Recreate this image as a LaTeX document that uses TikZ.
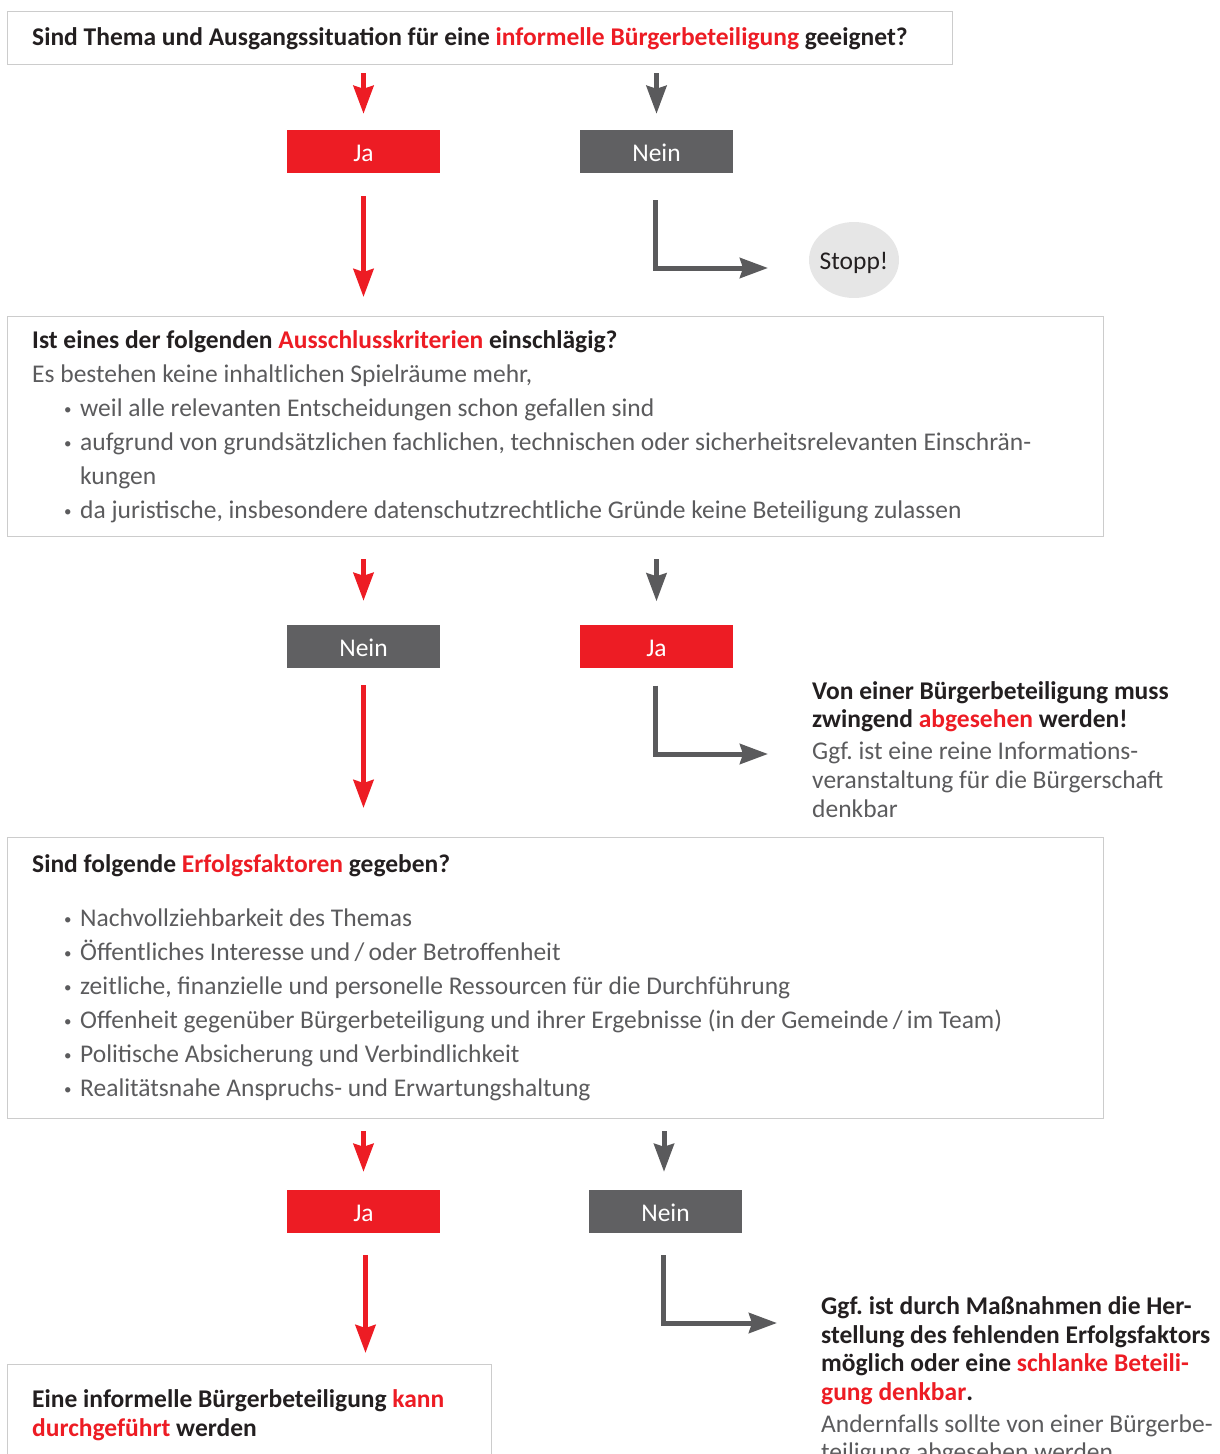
\documentclass[tikz,border=0pt]{standalone}
\usepackage{fontspec}
\setmainfont{Carlito}
\usetikzlibrary{arrows.meta,shapes.geometric}
\definecolor{hred}{HTML}{ED1C24}
\definecolor{darkbox}{HTML}{606062}
\definecolor{arrgray}{HTML}{5A5A5C}
\definecolor{boxline}{HTML}{CCCCCC}
\definecolor{headtext}{HTML}{231F20}
\definecolor{bodytext}{HTML}{5B5B5D}
\definecolor{stoppfill}{HTML}{E6E6E6}
\newcommand\hr[1]{\textcolor{hred}{#1}}
\newcommand\bul{\makebox[16pt][l]{\raisebox{1.5pt}{\fontsize{15}{15}\selectfont•}}}
\frenchspacing
\tikzset{
  frame/.style={draw=boxline, line width=1.3pt, anchor=north west, inner sep=0pt},
  yesbox/.style={fill=hred, minimum width=153pt, minimum height=43pt, inner sep=0pt, text=white, font=\fontsize{25.5}{30}\selectfont, text height=20pt, text depth=0pt},
  nobox/.style={yesbox, fill=darkbox},
  head/.style={anchor=base west, inner sep=0pt, text=headtext, font=\fontsize{25.5}{30}\selectfont\bfseries},
  body/.style={anchor=base west, inner sep=0pt, text=bodytext, font=\fontsize{25.5}{30}\selectfont},
  redarrow/.style={draw=hred, line width=5pt, -{Stealth[width=20pt,length=28pt,inset=3pt]}},
  grayarrow/.style={redarrow, draw=arrgray},
}
\begin{document}
\begin{tikzpicture}[x=1pt,y=-1pt]
\useasboundingbox (0,0) rectangle (1219,1454);
\clip (0,0) rectangle (1219,1454);
% boxes
\node[frame, minimum width=945pt, minimum height=53pt] (q1) at (7,11) {};
\node[frame, minimum width=1096pt, minimum height=220pt] (q2) at (7,316) {};
\node[frame, minimum width=1096pt, minimum height=281pt] (q3) at (7,837) {};
\node[frame, minimum width=484pt, minimum height=120pt] (res) at (7,1364) {};
% answer boxes
\node[yesbox] (ja1) at (363.5,151.5) {Ja};
\node[nobox] (nein1) at (656.5,151.5) {Nein};
\node[nobox] (nein2) at (363.5,646.5) {Nein};
\node[yesbox] (ja2) at (656.5,646) {Ja};
\node[yesbox] (ja3) at (363.5,1211.5) {Ja};
\node[nobox] (nein3) at (665.5,1211.5) {Nein};
\node[ellipse, fill=stoppfill, minimum width=90pt, minimum height=76pt, inner xsep=-2.5pt, inner ysep=0pt, text=headtext, font=\fontsize{25.5}{30}\selectfont, text height=18pt, text depth=0pt] (stopp) at (854,260) {Stopp!};
% texts box 1
\node[head] (t1) at (32,45) {Sind Thema und Ausgangssituation für eine \hr{informelle Bürgerbeteiligung} geeignet?};
% box 2
\node[head] (t2) at (32,348) {Ist eines der folgenden \hr{Ausschlusskriterien} einschlägig?};
\node[body] (t2a) at (32,382) {Es bestehen keine inhaltlichen Spielräume mehr,};
\node[body] (t2b) at (64,416) {\bul weil alle relevanten Entscheidungen schon gefallen sind};
\node[body] (t2c) at (64,450) {\bul aufgrund von grundsätzlichen fachlichen, technischen oder sicherheitsrelevanten Einschrän-};
\node[body] (t2d) at (80,484) {kungen};
\node[body] (t2e) at (64,518) {\bul da juristische, insbesondere datenschutzrechtliche Gründe keine Beteiligung zulassen};
% side text 1
\node[head] (s1a) at (812,699) {Von einer Bürgerbeteiligung muss};
\node[head] (s1b) at (812,727) {zwingend \hr{abgesehen} werden!};
\node[body] (s1c) at (812,759) {Ggf. ist eine reine Informations-};
\node[body] (s1d) at (812,788) {veranstaltung für die Bürgerschaft};
\node[body] (s1e) at (812,817) {denkbar};
% box 3
\node[head] (t3) at (32,872) {Sind folgende \hr{Erfolgsfaktoren} gegeben?};
\node[body] (t3a) at (64,926) {\bul Nachvollziehbarkeit des Themas};
\node[body] (t3b) at (64,960) {\bul Öffentliches Interesse und\,/\,oder Betroffenheit};
\node[body] (t3c) at (64,994) {\bul zeitliche, finanzielle und personelle Ressourcen für die Durchführung};
\node[body] (t3d) at (64,1028) {\bul Offenheit gegenüber Bürgerbeteiligung und ihrer Ergebnisse (in der Gemeinde\,/\,im Team)};
\node[body] (t3e) at (64,1062) {\bul Politische Absicherung und Verbindlichkeit};
\node[body] (t3f) at (64,1096) {\bul Realitätsnahe Anspruchs- und Erwartungshaltung};
% side text 2
\node[head] (s2a) at (821,1314) {Ggf. ist durch Maßnahmen die Her-};
\node[head] (s2b) at (821,1343) {stellung des fehlenden Erfolgsfaktors};
\node[head] (s2c) at (821,1371) {möglich oder eine \hr{schlanke Beteili-}};
\node[head] (s2d) at (821,1400) {\hr{gung denkbar}.};
\node[body] (s2e) at (821,1432) {Andernfalls sollte von einer Bürgerbe-};
\node[body] (s2f) at (821,1460) {teiligung abgesehen werden.};
% result box text
\node[head] (r1) at (32,1407) {Eine informelle Bürgerbeteiligung \hr{kann}};
\node[head] (r2) at (32,1436) {\hr{durchgeführt} werden};
% free ends
\coordinate (e1) at (768,268);
\coordinate (e2) at (768,754);
\coordinate (e3) at (777,1323);
% arrows
\draw[redarrow, shorten <=8pt, shorten >=16pt] (q1.south -| ja1) -- (ja1.north);
\draw[grayarrow, shorten <=8pt, shorten >=16pt] (q1.south -| nein1) -- (nein1.north);
\draw[redarrow, shorten <=23pt, shorten >=19pt] (ja1.south) -- (ja1.south |- q2.north);
\draw[grayarrow, shorten <=27pt] ([xshift=-1.5pt]nein1.south) |- (e1);
\draw[redarrow, shorten <=22pt, shorten >=24pt] (q2.south -| nein2) -- (nein2.north);
\draw[grayarrow, shorten <=22pt, shorten >=23pt] (q2.south -| ja2) -- (ja2.north);
\draw[redarrow, shorten <=17pt, shorten >=29pt] (nein2.south) -- (nein2.south |- q3.north);
\draw[grayarrow, shorten <=18pt] ([xshift=-1.5pt]ja2.south) |- (e2);
\draw[redarrow, shorten <=12pt, shorten >=18pt] (q3.south -| ja3) -- (ja3.north);
\draw[grayarrow, shorten <=12pt, shorten >=18pt] ([xshift=-1.5pt]q3.south -| nein3) -- ([xshift=-1.5pt]nein3.north);
\draw[redarrow, shorten <=22pt, shorten >=11pt] ([xshift=2pt]ja3.south) -- ([xshift=2pt]ja3.south |- res.north);
\draw[grayarrow, shorten <=22pt] ([xshift=-2.5pt]nein3.south) |- (e3);
\end{tikzpicture}
\end{document}
